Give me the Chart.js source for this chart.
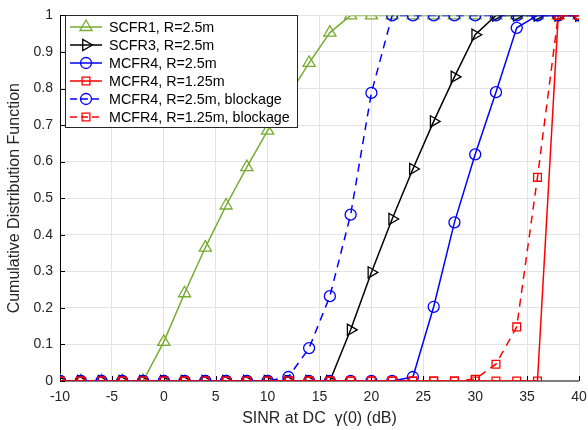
<!DOCTYPE html>
<html>
<head>
<meta charset="utf-8">
<script src="https://cdn.jsdelivr.net/npm/chart.js@4/dist/chart.umd.min.js"></script>
<style>
  html, body { margin: 0; padding: 0; background: #fff; }
  #wrap { width: 588px; height: 430px; }
</style>
</head>
<body>
<div id="wrap"><canvas id="cdfChart" width="588" height="430"></canvas></div>
<script>
// SINR sample points (dB)
var sinrValues = [-10, -8, -6, -4, -2, 0, 2, 4, 6, 8, 10, 12, 14, 16, 18, 20, 22, 24, 26, 28, 30, 32, 34, 36, 38, 40];

// CDF values, one per SINR point
var scfr1 = [0, 0, 0, 0, 0, 0.107, 0.24, 0.365, 0.48, 0.585, 0.685, 0.78, 0.87, 0.953, 1, 1, 1, 1, 1, 1, 1, 1, 1, 1, 1, 1];
var scfr3 = [0, 0, 0, 0, 0, 0, 0, 0, 0, 0, 0, 0, 0, 0, 0.14, 0.297, 0.443, 0.58, 0.71, 0.832, 0.947, 1, 1, 1, 1, 1];
var mcfr4R25 = [0, 0, 0, 0, 0, 0, 0, 0, 0, 0, 0, 0, 0, 0, 0, 0, 0, 0.011, 0.203, 0.434, 0.62, 0.79, 0.966, 1, 1, 1];
var mcfr4R125 = [0, 0, 0, 0, 0, 0, 0, 0, 0, 0, 0, 0, 0, 0, 0, 0, 0, 0, 0, 0, 0, 0, 0, 0, 1, 1];
var mcfr4R25Block = [0, 0, 0, 0, 0, 0, 0, 0, 0, 0, 0, 0.011, 0.09, 0.232, 0.455, 0.788, 1, 1, 1, 1, 1, 1, 1, 1, 1, 1];
var mcfr4R125Block = [0, 0, 0, 0, 0, 0, 0, 0, 0, 0, 0, 0, 0, 0, 0, 0, 0, 0, 0, 0, 0.005, 0.046, 0.148, 0.557, 1, 1];

var seriesLabels = ["SCFR1, R=2.5m", "SCFR3, R=2.5m", "MCFR4, R=2.5m", "MCFR4, R=1.25m", "MCFR4, R=2.5m, blockage", "MCFR4, R=1.25m, blockage"];

var xTicks = [-10, -5, 0, 5, 10, 15, 20, 25, 30, 35, 40];
var yTicks = [0, 0.1, 0.2, 0.3, 0.4, 0.5, 0.6, 0.7, 0.8, 0.9, 1];

var green = "#77AC30";
var black = "#000000";
var blue = "#0000FF";
var red = "#FF0000";

Chart.defaults.font.family = "'Liberation Sans', Arial, sans-serif";
Chart.defaults.color = "#262626";

function toPoints(values) {
  return values.map(function (v, i) { return { x: sinrValues[i], y: v }; });
}

function makeSeries(i, values, color, style, rotation, radius, dashed) {
  return {
    label: seriesLabels[i],
    data: toPoints(values),
    borderColor: color,
    backgroundColor: "rgba(0,0,0,0)",
    borderWidth: 1.5,
    borderDash: dashed ? [8, 6] : [],
    pointStyle: style,
    rotation: rotation,
    pointRadius: radius,
    pointBorderWidth: 1.3,
    pointBorderColor: color,
    pointBackgroundColor: "rgba(0,0,0,0)",
    tension: 0,
    order: 6 - i
  };
}

var datasets = [
  makeSeries(0, scfr1, green, "triangle", 0, 7, false),
  makeSeries(1, scfr3, black, "triangle", 90, 6.5, false),
  makeSeries(2, mcfr4R25, blue, "circle", 0, 5.5, false),
  makeSeries(3, mcfr4R125, red, "rect", 0, 5.5, false),
  makeSeries(4, mcfr4R25Block, blue, "circle", 0, 5.5, true),
  makeSeries(5, mcfr4R125Block, red, "rect", 0, 5.5, true)
];

// axis lines and inward tick marks, MATLAB style
var axesPlugin = {
  id: "axesLines",
  beforeDatasetsDraw: function (chart) {
    var ctx = chart.ctx;
    var a = chart.chartArea;
    var xs = chart.scales.x;
    var ys = chart.scales.y;
    ctx.save();
    ctx.strokeStyle = "#808080";
    ctx.lineWidth = 2;
    ctx.beginPath();
    ctx.moveTo(a.left, a.bottom);
    ctx.lineTo(a.right, a.bottom);
    ctx.stroke();
    ctx.strokeStyle = "#000";
    ctx.lineWidth = 1;
    ctx.beginPath();
    ctx.moveTo(a.left + 0.5, a.top);
    ctx.lineTo(a.left + 0.5, a.bottom);
    xTicks.forEach(function (t) {
      var px = Math.round(xs.getPixelForValue(t)) + 0.5;
      ctx.moveTo(px, a.bottom);
      ctx.lineTo(px, a.bottom - 5);
    });
    yTicks.forEach(function (t) {
      var py = Math.round(ys.getPixelForValue(t)) + 0.5;
      ctx.moveTo(a.left, py);
      ctx.lineTo(a.left + 5, py);
    });
    ctx.stroke();
    ctx.restore();
  }
};

// boxed legend with line + marker samples
var legendPlugin = {
  id: "boxLegend",
  afterDraw: function (chart) {
    var ctx = chart.ctx;
    var left = 65, top = 15, w = 232, h = 112;
    ctx.save();
    ctx.fillStyle = "#fff";
    ctx.fillRect(left, top, w, h);
    ctx.strokeStyle = "#262626";
    ctx.lineWidth = 1;
    ctx.strokeRect(left + 0.5, top + 0.5, w, h);
    chart.data.datasets.forEach(function (ds, i) {
      var y = top + 12 + i * 18;
      ctx.strokeStyle = ds.borderColor;
      ctx.lineWidth = 1.5;
      ctx.setLineDash(ds.borderDash.length ? [7, 4] : []);
      ctx.beginPath();
      ctx.moveTo(70, y);
      ctx.lineTo(102, y);
      ctx.stroke();
      ctx.setLineDash([]);
      ctx.fillStyle = "rgba(0,0,0,0)";
      ctx.lineWidth = 1.3;
      Chart.helpers.drawPoint(ctx, {
        pointStyle: ds.pointStyle,
        rotation: ds.rotation,
        radius: ds.pointRadius,
        borderWidth: 1.3
      }, 86, y);
      ctx.fillStyle = "#000";
      ctx.font = "14.3px 'Liberation Sans', Arial, sans-serif";
      ctx.textBaseline = "middle";
      ctx.textAlign = "left";
      ctx.fillText(ds.label, 109, y + 1);
    });
    ctx.restore();
  }
};

new Chart(document.getElementById("cdfChart"), {
  type: "line",
  data: { datasets: datasets },
  options: {
    responsive: false,
    animation: false,
    layout: { padding: { top: 12, right: 9, left: 0, bottom: 0 } },
    plugins: { legend: { display: false }, tooltip: { enabled: false } },
    scales: {
      x: {
        type: "linear",
        min: -10,
        max: 40,
        afterBuildTicks: function (s) { s.ticks = xTicks.map(function (v) { return { value: v }; }); },
        afterFit: function (s) { s.height = 49; s.paddingRight = 0; s.paddingLeft = 0; },
        grid: { color: "#e3e3e3", drawTicks: false },
        border: { display: false },
        ticks: { font: { size: 14 }, padding: 8, color: "#262626", maxRotation: 0 },
        title: { display: true, text: "SINR at DC  γ(0) (dB)", font: { size: 16 }, color: "#262626", padding: { top: 0, bottom: 2 } }
      },
      y: {
        min: 0,
        max: 1,
        afterBuildTicks: function (s) { s.ticks = yTicks.map(function (v) { return { value: v }; }); },
        afterFit: function (s) { s.width = 60; },
        grid: { color: "#e3e3e3", drawTicks: false },
        border: { display: false },
        ticks: { font: { size: 14 }, padding: 7, color: "#262626", callback: function (v) { return String(v); } },
        title: { display: true, text: "Cumulative Distribution Function", font: { size: 16 }, color: "#262626", padding: { top: 5, bottom: 0 } }
      }
    }
  },
  plugins: [axesPlugin, legendPlugin]
});
</script>
</body>
</html>
